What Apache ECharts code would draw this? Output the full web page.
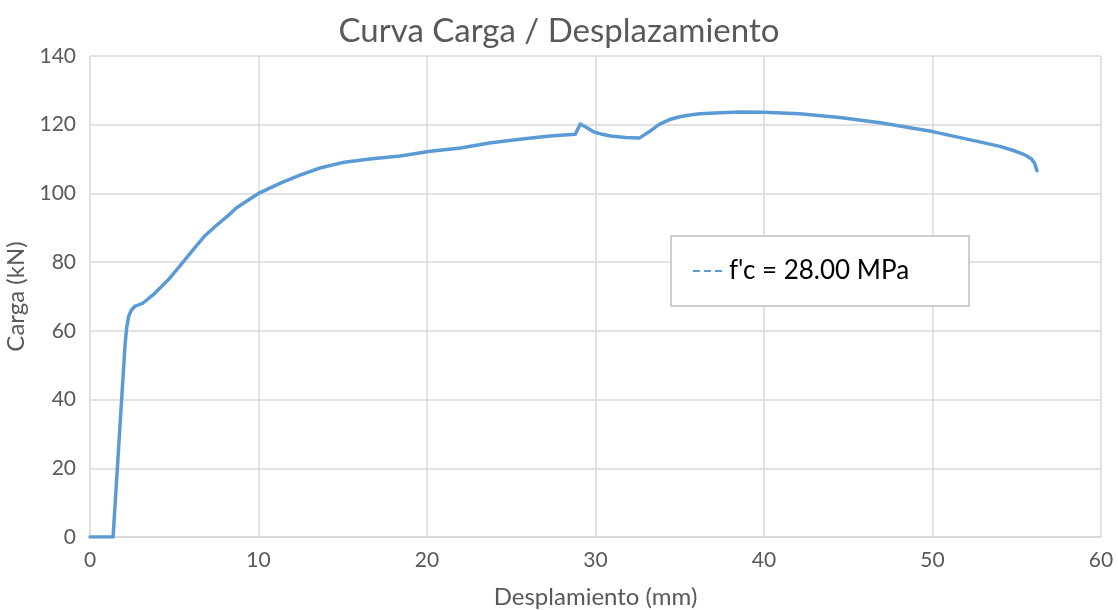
<!DOCTYPE html>
<html><head><meta charset="utf-8">
<script src="https://cdn.jsdelivr.net/npm/echarts@6/dist/echarts.min.js"></script>
<style>html,body{margin:0;padding:0;background:#fff}#c{width:1118px;height:610px}</style>
</head><body><div id="c"></div>
<script>
const title = 'Curva Carga / Desplazamiento';
const xName = 'Desplamiento (mm)';
const yName = 'Carga (kN)';
const seriesName = "f'c = 28.00 MPa";
const desplazamiento = [0, 1.37, 2.08, 2.18, 2.3, 2.45, 2.65, 2.9, 3.15, 3.86, 4.63, 5.34, 6.1, 6.8, 7.6, 8.3, 8.66, 9.4, 10, 11.3, 12.5, 13.65, 15.1, 16.6, 18.4, 20.2, 22, 23.7, 25.5, 27.3, 28.8, 29.1, 29.4, 29.85, 30.4, 30.9, 31.8, 32.6, 33.2, 33.8, 34.4, 35, 35.6, 36.2, 37.4, 38.6, 40, 42.1, 44.5, 46.9, 50, 52.8, 54, 54.8, 55.3, 55.6, 55.85, 56.05, 56.2];
const carga = [0, 0, 56, 61, 64.3, 66, 67.1, 67.6, 68.1, 71, 74.8, 78.9, 83.5, 87.6, 91.1, 94, 95.7, 98.1, 100, 103, 105.4, 107.4, 109.1, 110, 110.9, 112.3, 113.2, 114.7, 115.8, 116.7, 117.2, 120.2, 119.4, 118, 117.2, 116.7, 116.3, 116.1, 118, 120.2, 121.5, 122.3, 122.8, 123.2, 123.5, 123.7, 123.6, 123.2, 122.1, 120.6, 118, 115, 113.7, 112.5, 111.6, 110.9, 110.1, 108.9, 106.6];
const xTicks = [0, 10, 20, 30, 40, 50, 60];
const yTicks = [0, 20, 40, 60, 80, 100, 120, 140];

const chart = echarts.init(document.getElementById('c'), null, {renderer: 'canvas'});
const font = 'Lato, "Open Sans", sans-serif';
chart.setOption({
  animation: false,
  backgroundColor: '#fff',
  textStyle: {fontFamily: font},
  title: {text: title, left: 'center', top: 10,
    textStyle: {fontFamily: font, fontSize: 33, fontWeight: 'normal', color: '#595959'}},
  grid: {left: 90, right: 17, top: 56, bottom: 73, containLabel: false, outerBoundsMode: 'none'},
  legend: {
    data: [{name: seriesName, icon: 'path://M0,0h7v2h-7z M11,0h7v2h-7z M22,0h7v2h-7z'}],
    left: 671, top: 236, orient: 'vertical',
    itemWidth: 29, itemHeight: 2, itemGap: 5,
    padding: [22, 60, 22, 22],
    backgroundColor: '#fff', borderColor: '#bfbfbf', borderWidth: 1.5,
    textStyle: {fontFamily: font, fontSize: 26, color: '#000', padding: [0, 0, 0, 2]}
  },
  xAxis: {
    type: 'value', min: xTicks[0], max: xTicks[xTicks.length - 1], interval: 10,
    name: xName, nameLocation: 'middle', nameGap: 48,
    nameTextStyle: {fontFamily: font, fontSize: 24, color: '#595959'},
    axisLine: {show: true, lineStyle: {color: '#d9d9d9', width: 1.5}},
    axisTick: {show: false},
    axisLabel: {fontFamily: font, fontSize: 21, color: '#595959', margin: 13},
    splitLine: {show: true, lineStyle: {color: '#d9d9d9', width: 1.5}}
  },
  yAxis: {
    type: 'value', min: yTicks[0], max: yTicks[yTicks.length - 1], interval: 20,
    name: yName, nameLocation: 'middle', nameGap: 52, nameRotate: 90,
    nameTextStyle: {fontFamily: font, fontSize: 24, color: '#595959'},
    axisLine: {show: false},
    axisTick: {show: false},
    axisLabel: {fontFamily: font, fontSize: 21, color: '#595959', margin: 14},
    splitLine: {show: true, lineStyle: {color: '#d9d9d9', width: 1.5}}
  },
  series: [{
    name: seriesName, type: 'line', showSymbol: false, smooth: false,
    data: desplazamiento.map((x, i) => [x, carga[i]]),
    lineStyle: {color: '#5b9bd5', width: 3.5, join: 'round', cap: 'round'},
    itemStyle: {color: '#5b9bd5'}
  }]
});
</script></body></html>
